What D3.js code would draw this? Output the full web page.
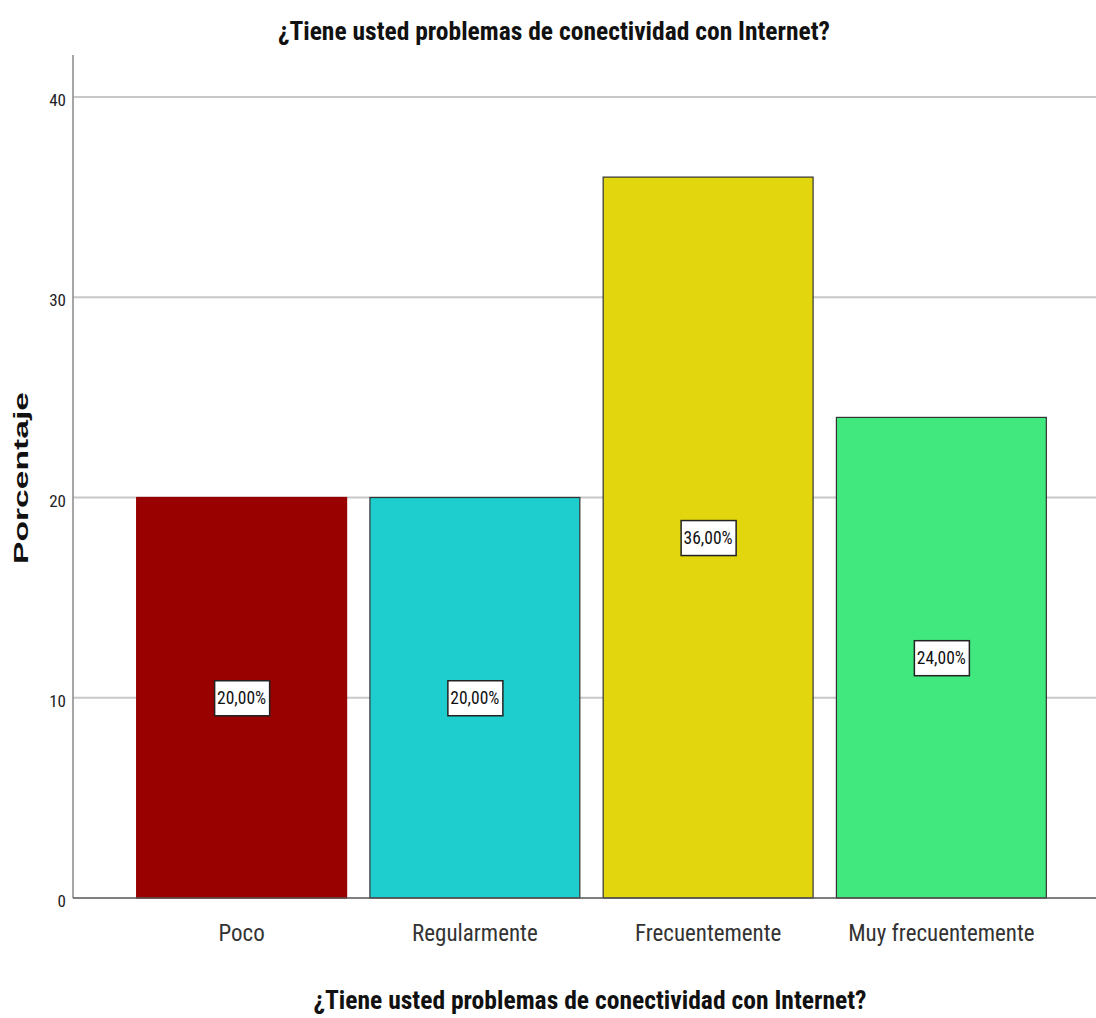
<!DOCTYPE html>
<html><head><meta charset="utf-8">
<script src="https://cdn.jsdelivr.net/npm/d3@7"></script>
<style>
body{margin:0;background:#fff;}
svg{display:block;}
.narrow{font-family:"Liberation Sans Narrow","Arial Narrow","Roboto Condensed",sans-serif;}
</style></head>
<body><svg id="c" width="1096" height="1018"></svg>
<script>
const categories = ["Poco","Regularmente","Frecuentemente","Muy frecuentemente"];
const values = [20, 20, 36, 24];
const labels = ["20,00%","20,00%","36,00%","24,00%"];
const colors = ["#990000","#1ECDCD","#E2D70E","#41E87E"];
const yTicks = [0,10,20,30,40];
const title = "¿Tiene usted problemas de conectividad con Internet?";
const yTitle = "Porcentaje";

const svg = d3.select("#c");
const m = {left:73, right:1096, top:55, bottom:898};
const y = d3.scaleLinear().domain([0,40]).range([m.bottom, 97]);
const x = d3.scaleBand().domain(categories).range([125, 1058]).paddingInner(0.1).paddingOuter(0.05);

// gridlines
svg.append("g").selectAll("line").data(yTicks.filter(d=>d>0)).join("line")
  .attr("x1", m.left).attr("x2", m.right)
  .attr("y1", d=>y(d)).attr("y2", d=>y(d))
  .attr("stroke","#c8c8c8").attr("stroke-width",2);

// y axis
const yAxis = d3.axisLeft(y).tickValues(yTicks).tickSize(0).tickPadding(7);
const gy = svg.append("g").attr("transform",`translate(${m.left},0)`).call(yAxis);
gy.select(".domain").remove();
gy.selectAll("text").attr("class","narrow").attr("font-size",17).attr("fill","#222").attr("dy","0.5em");
svg.append("line").attr("x1",m.left).attr("x2",m.left).attr("y1",m.top).attr("y2",m.bottom)
  .attr("stroke","#888").attr("stroke-width",1.5);

// bars
svg.append("g").selectAll("rect").data(values).join("rect")
  .attr("x",(d,i)=>x(categories[i])).attr("width",x.bandwidth())
  .attr("y",d=>y(d)).attr("height",d=>y(0)-y(d))
  .attr("fill",(d,i)=>colors[i])
  .attr("stroke",(d,i)=>i===0?"#990000":"#333").attr("stroke-width",1.2);

// x axis
svg.append("line").attr("x1",m.left).attr("x2",m.right).attr("y1",m.bottom).attr("y2",m.bottom)
  .attr("stroke","#555").attr("stroke-width",1.5);
const xAxis = d3.axisBottom(x).tickSize(0).tickPadding(27);
const gx = svg.append("g").attr("transform",`translate(0,${m.bottom})`).call(xAxis);
gx.select(".domain").remove();
gx.selectAll("text").attr("class","narrow").attr("font-size",23).attr("fill","#333");

// value labels
const lg = svg.append("g").selectAll("g").data(values).join("g")
  .attr("transform",(d,i)=>`translate(${x(categories[i])+x.bandwidth()/2},${y(d/2)})`);
lg.append("rect").attr("x",-27).attr("y",-17).attr("width",55).attr("height",35)
  .attr("fill","#fff").attr("stroke","#222").attr("stroke-width",1.5);
lg.append("text").attr("class","narrow").attr("text-anchor","middle").attr("dy","0.38em")
  .attr("font-size",17.5).attr("fill","#111").text((d,i)=>labels[i]);

// titles
svg.append("text").attr("class","narrow").attr("x",554).attr("y",40).attr("text-anchor","middle")
  .attr("font-size",25).attr("font-weight","bold").attr("fill","#111")
  .attr("textLength",552).attr("lengthAdjust","spacingAndGlyphs").text(title);
svg.append("text").attr("class","narrow").attr("x",590).attr("y",1009).attr("text-anchor","middle")
  .attr("font-size",25).attr("font-weight","bold").attr("fill","#111")
  .attr("textLength",553).attr("lengthAdjust","spacingAndGlyphs").text(title);
svg.append("text").attr("transform","translate(28,478) rotate(-90)").attr("text-anchor","middle")
  .attr("font-family","Liberation Sans, Arial, sans-serif").attr("font-size",21).attr("font-weight","bold")
  .attr("textLength",172).attr("lengthAdjust","spacingAndGlyphs")
  .attr("fill","#111").text(yTitle);
</script></body></html>
